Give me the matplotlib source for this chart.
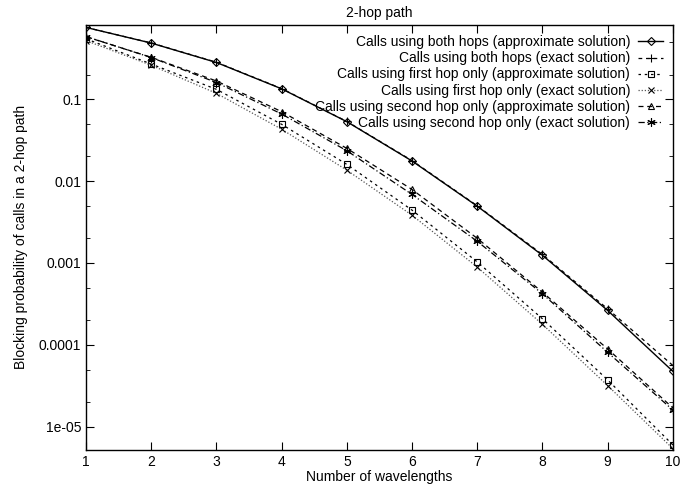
import matplotlib
matplotlib.use("Agg")
import matplotlib.pyplot as plt
from matplotlib.ticker import FixedLocator, NullFormatter

plt.rcParams['font.family'] = ['Liberation Sans', 'DejaVu Sans']

# data
wavelengths = [1, 2, 3, 4, 5, 6, 7, 8, 9, 10]
both_approx = [0.753, 0.485, 0.281, 0.134, 0.0532, 0.0176, 0.00494, 0.00124, 0.000263, 4.75e-5]
both_exact = [0.753, 0.487, 0.283, 0.135, 0.0535, 0.0178, 0.00500, 0.00127, 0.000275, 5.6e-5]
first_approx = [0.547, 0.269, 0.132, 0.0494, 0.0160, 0.00442, 0.00103, 0.000208, 3.73e-5, 6.0e-6]
first_exact = [0.52, 0.26, 0.118, 0.043, 0.0136, 0.00383, 0.00089, 0.000178, 3.18e-5, 5.4e-6]
second_approx = [0.58, 0.325, 0.167, 0.0705, 0.0251, 0.0079, 0.0020, 0.00044, 8.9e-5, 1.7e-5]
second_exact = [0.583, 0.323, 0.160, 0.066, 0.0235, 0.00687, 0.00184, 0.00042, 8.1e-5, 1.6e-5]

series_labels = [
    'Calls using both hops (approximate solution)',
    'Calls using both hops (exact solution)',
    'Calls using first hop only (approximate solution)',
    'Calls using first hop only (exact solution)',
    'Calls using second hop only (approximate solution)',
    'Calls using second hop only (exact solution)',
]
ytick_values = [1e-5, 1e-4, 1e-3, 1e-2, 1e-1]
ytick_labels = ['1e-05', '0.0001', '0.001', '0.01', '0.1']

fig = plt.figure(figsize=(6.88, 4.87), dpi=100)
ax = fig.add_axes([0.125, 0.076, 0.853, 0.873])

styles = [
    dict(ls='-', marker='D', color='black', lw=1.0, ms=4),
    dict(ls=(0, (3, 3)), marker='+', color='black', lw=0.9, ms=6),
    dict(ls=(0, (2, 3)), marker='s', color='black', lw=0.9, ms=5),
    dict(ls=(0, (1, 1.5)), marker='x', color='#555555', lw=0.9, ms=5),
    dict(ls=(0, (4, 3)), marker='^', color='black', lw=0.9, ms=5),
    dict(ls=(0, (5, 2, 1, 2)), marker=(6, 2, 0), color='black', lw=0.9, ms=6),
]
all_series = [both_approx, both_exact, first_approx, first_exact, second_approx, second_exact]

for vals, label, st in zip(all_series, series_labels, styles):
    ax.plot(wavelengths, vals, label=label, markerfacecolor='none',
            markeredgecolor='black', markeredgewidth=0.8, **st)

ax.set_yscale('log')
ax.set_xlim(1, 10)
ax.set_ylim(5.2e-6, 0.81)
ax.set_xticks(wavelengths)
ax.yaxis.set_major_locator(FixedLocator(ytick_values))
ax.set_yticklabels(ytick_labels)
minor = [m * v for v in [1e-6, 1e-5, 1e-4, 1e-3, 1e-2, 1e-1] for m in (2, 5)]
ax.yaxis.set_minor_locator(FixedLocator(minor))
ax.yaxis.set_minor_formatter(NullFormatter())
ax.tick_params(which='both', direction='in', top=True, right=True, labelsize=10)
ax.tick_params(which='major', length=6)
ax.tick_params(which='minor', length=3)
for sp in ax.spines.values():
    sp.set_linewidth(1.0)

ax.set_title('2-hop path', fontsize=10, pad=6)
ax.set_xlabel('Number of wavelengths', fontsize=10, labelpad=1)
ax.set_ylabel('Blocking probability of calls in a 2-hop path', fontsize=10, labelpad=8)

leg = ax.legend(loc='upper right', frameon=False, markerfirst=False, fontsize=10,
                handlelength=1.8, handletextpad=0.6, labelspacing=0.15,
                bbox_to_anchor=(0.998, 0.995), borderaxespad=0.2)

fig.savefig('out.png', dpi=100)
